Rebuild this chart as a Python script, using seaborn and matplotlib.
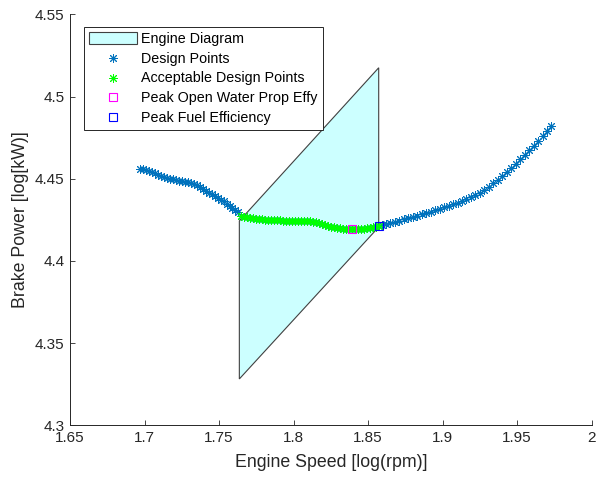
import matplotlib
matplotlib.use("Agg")
import matplotlib.pyplot as plt
import matplotlib.ticker as mticker
import numpy as np
import pandas as pd
import seaborn as sns

# Engine operating envelope (log speed, log power), corners in drawing order
diagram_speed = [1.7636, 1.8571, 1.8571, 1.7636]
diagram_power = [4.4243, 4.5175, 4.4206, 4.3282]

# Design points below the engine envelope (low speed side)
low_speed = [1.697, 1.699, 1.701, 1.703, 1.705, 1.707, 1.709, 1.711, 1.713,
             1.715, 1.717, 1.719, 1.721, 1.723, 1.725, 1.727, 1.729, 1.731,
             1.733, 1.735, 1.737, 1.739, 1.741, 1.743, 1.745, 1.747, 1.749,
             1.751, 1.753, 1.755, 1.757, 1.759, 1.761, 1.763]
low_power = [4.4562, 4.4557, 4.4551, 4.4545, 4.4538, 4.4532, 4.4525, 4.4518,
             4.4511, 4.4506, 4.4501, 4.4496, 4.4492, 4.4488, 4.4484, 4.4480,
             4.4477, 4.4473, 4.4469, 4.4460, 4.4449, 4.4437, 4.4426, 4.4415,
             4.4404, 4.4393, 4.4383, 4.4373, 4.4362, 4.4349, 4.4335, 4.4322,
             4.4309, 4.4296]

# Design points that fall inside the engine envelope
ok_speed = [1.765, 1.767, 1.769, 1.771, 1.773, 1.775, 1.777, 1.779, 1.781,
            1.783, 1.785, 1.787, 1.789, 1.791, 1.793, 1.795, 1.797, 1.799,
            1.801, 1.803, 1.805, 1.807, 1.809, 1.811, 1.813, 1.815, 1.817,
            1.819, 1.821, 1.823, 1.825, 1.827, 1.829, 1.831, 1.833, 1.835,
            1.837, 1.839, 1.841, 1.843, 1.845, 1.847, 1.849, 1.851, 1.853,
            1.855, 1.857]
ok_power = [4.4274, 4.4269, 4.4265, 4.4262, 4.4259, 4.4257, 4.4255, 4.4253,
            4.4251, 4.4249, 4.4248, 4.4247, 4.4246, 4.4246, 4.4245, 4.4245,
            4.4244, 4.4244, 4.4244, 4.4243, 4.4243, 4.4243, 4.4242, 4.4241,
            4.4239, 4.4236, 4.4232, 4.4226, 4.4220, 4.4214, 4.4209, 4.4205,
            4.4202, 4.4199, 4.4197, 4.4195, 4.4193, 4.4192, 4.4192, 4.4193,
            4.4195, 4.4197, 4.4200, 4.4203, 4.4206, 4.4209, 4.4212]

# Design points above the engine envelope (high speed side)
high_speed = [1.859, 1.862, 1.865, 1.868, 1.871, 1.874, 1.877, 1.880, 1.883,
              1.886, 1.889, 1.892, 1.895, 1.898, 1.901, 1.904, 1.907, 1.910,
              1.913, 1.916, 1.919, 1.922, 1.925, 1.928, 1.931, 1.934, 1.937,
              1.940, 1.943, 1.946, 1.949, 1.952, 1.955, 1.958, 1.961, 1.964,
              1.967, 1.970, 1.973]
high_power = [4.4217, 4.4224, 4.4231, 4.4238, 4.4245, 4.4253, 4.4260, 4.4268,
              4.4276, 4.4284, 4.4292, 4.4300, 4.4309, 4.4318, 4.4326, 4.4335,
              4.4344, 4.4354, 4.4364, 4.4376, 4.4388, 4.4401, 4.4416, 4.4432,
              4.4450, 4.4471, 4.4493, 4.4516, 4.4540, 4.4566, 4.4592, 4.4618,
              4.4645, 4.4673, 4.4701, 4.4730, 4.4760, 4.4791, 4.4822]

# Optimum points
prop_peak_speed = [1.839]
prop_peak_power = [4.4192]
fuel_peak_speed = [1.857]
fuel_peak_power = [4.4212]

x_ticks = [1.65, 1.7, 1.75, 1.8, 1.85, 1.9, 1.95, 2.0]
y_ticks = [4.3, 4.35, 4.4, 4.45, 4.5, 4.55]

design = pd.DataFrame({
    "speed": low_speed + ok_speed + high_speed,
    "power": low_power + ok_power + high_power,
})
acceptable = pd.DataFrame({"speed": ok_speed, "power": ok_power})

sns.set_theme(style="ticks")
plt.rcParams["font.family"] = ["Liberation Sans", "DejaVu Sans"]
plt.rcParams["axes.edgecolor"] = "#262626"
plt.rcParams["xtick.color"] = "#262626"
plt.rcParams["ytick.color"] = "#262626"

fig = plt.figure(figsize=(5.97, 4.79), dpi=100)
ax = fig.add_axes([0.1173, 0.1121, 0.8738, 0.858])

asterisk = (8, 2, 0)
dark = "#262626"

ax.fill(diagram_speed, diagram_power, facecolor="#ccffff",
        edgecolor="#404040", linewidth=0.8, label="Engine Diagram", zorder=1)

sns.scatterplot(data=design, x="speed", y="power", ax=ax, marker=asterisk,
                s=34, color="#0072bd", edgecolor="#0072bd", linewidth=0.7,
                label="Design Points", zorder=2)
sns.scatterplot(data=acceptable, x="speed", y="power", ax=ax, marker=asterisk,
                s=34, color="#00ff00", edgecolor="#00ff00", linewidth=0.7,
                label="Acceptable Design Points", zorder=3)
ax.plot(prop_peak_speed, prop_peak_power, linestyle="none", marker="s",
        markersize=6, markerfacecolor="none", markeredgecolor="#ff00ff",
        markeredgewidth=0.8, label="Peak Open Water Prop Effy", zorder=4)
ax.plot(fuel_peak_speed, fuel_peak_power, linestyle="none", marker="s",
        markersize=6, markerfacecolor="none", markeredgecolor="#0000ff",
        markeredgewidth=0.8, label="Peak Fuel Efficiency", zorder=4)

ax.set_xlim(1.65, 2.0)
ax.set_ylim(4.3, 4.55)
ax.set_xticks(x_ticks)
ax.set_yticks(y_ticks)
fmt = mticker.FormatStrFormatter("%g")
ax.xaxis.set_major_formatter(fmt)
ax.yaxis.set_major_formatter(fmt)
ax.tick_params(direction="in", length=3.5, width=0.6, labelsize=11,
               labelcolor=dark, pad=4)
for side in ("top", "right"):
    ax.spines[side].set_visible(False)
for side in ("left", "bottom"):
    ax.spines[side].set_linewidth(0.7)
    ax.spines[side].set_color(dark)

ax.set_xlabel("Engine Speed [log(rpm)]", fontsize=12.8, color=dark)
ax.set_ylabel("Brake Power [log[kW)]", fontsize=12.8, color=dark)
ax.xaxis.set_label_coords(0.5, -0.071)
ax.yaxis.set_label_coords(-0.078, 0.5)

leg = ax.legend(loc="upper left", bbox_to_anchor=(84 / 597, 1 - 27 / 479),
                bbox_transform=fig.transFigure, fontsize=10.3, frameon=True,
                fancybox=False, edgecolor=dark, framealpha=1,
                handlelength=3.35, handleheight=0.85, handletextpad=0.3,
                borderpad=0.35, labelspacing=0.4, borderaxespad=0)
leg.get_frame().set_linewidth(0.7)
for txt in leg.get_texts():
    txt.set_color("black")

fig.savefig("out.png", dpi=100, facecolor="white")
